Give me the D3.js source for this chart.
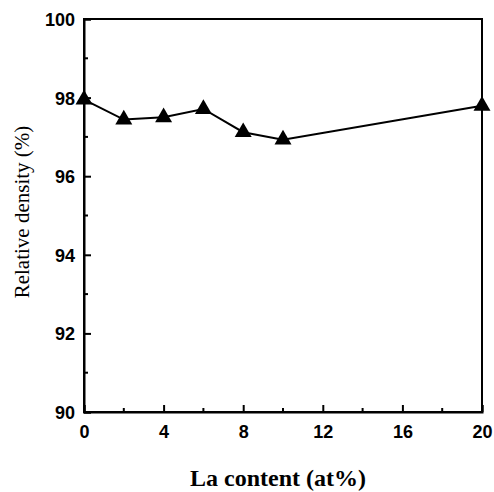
<!DOCTYPE html>
<html><head><meta charset="utf-8">
<script src="https://cdn.jsdelivr.net/npm/d3@7"></script>
<style>body{margin:0;background:#fff}svg{display:block}</style>
</head><body>
<svg id="c" width="494" height="492"></svg>
<script>
const laContent = [0, 2, 4, 6, 8, 10, 20];
const relDensity = [97.95, 97.44, 97.5, 97.71, 97.12, 96.93, 97.79];
const xTicks = [0, 4, 8, 12, 16, 20];
const xMinorTicks = [2, 6, 10, 14, 18];
const yTicks = [90, 92, 94, 96, 98, 100];
const yMinorTicks = [91, 93, 95, 97, 99];

const svg = d3.select("#c");
const m = {l: 84, r: 482, t: 19, b: 412};
const x = d3.scaleLinear().domain([0, 20]).range([m.l, m.r]);
const y = d3.scaleLinear().domain([90, 100]).range([m.b, m.t]);

// frame
svg.append("rect").attr("x", m.l).attr("y", m.t).attr("width", m.r - m.l).attr("height", m.b - m.t)
  .attr("fill", "none").attr("stroke", "#000").attr("stroke-width", 2);

const tickFont = "'Liberation Sans', Arial, sans-serif";
// x axis
const gx = svg.append("g").attr("transform", `translate(0,${m.b})`)
  .call(d3.axisBottom(x).tickValues(xTicks).tickSize(-7).tickFormat(d3.format("d")));
gx.append("g").selectAll("line").data(xMinorTicks).join("line")
  .attr("x1", d => x(d)).attr("x2", d => x(d)).attr("y1", 0).attr("y2", -4)
  .attr("stroke", "#000").attr("stroke-width", 2);
// y axis
const gy = svg.append("g").attr("transform", `translate(${m.l},0)`)
  .call(d3.axisLeft(y).tickValues(yTicks).tickSize(-7).tickPadding(9).tickFormat(d3.format("d")));
gy.append("g").selectAll("line").data(yMinorTicks).join("line")
  .attr("y1", d => y(d)).attr("y2", d => y(d)).attr("x1", 0).attr("x2", 4)
  .attr("stroke", "#000").attr("stroke-width", 2);

[gx, gy].forEach(g => {
  g.select(".domain").attr("stroke", "#000").attr("stroke-width", 2);
  g.selectAll(".tick line").attr("stroke", "#000").attr("stroke-width", 2);
  g.selectAll(".tick text").attr("font-family", tickFont).attr("font-weight", "bold")
    .attr("font-size", 18).attr("fill", "#000");
});
gx.selectAll(".tick text").attr("dy", null).attr("y", 26);
gy.selectAll(".tick text").attr("dy", "0.36em");

// line
const pts = laContent.map((d, i) => [d, relDensity[i]]);
svg.append("path").datum(pts)
  .attr("d", d3.line().x(d => x(d[0])).y(d => y(d[1])))
  .attr("fill", "none").attr("stroke", "#000").attr("stroke-width", 2);

svg.append("g").selectAll("path").data(pts).join("path")
  .attr("transform", d => `translate(${x(d[0])},${y(d[1])})`)
  .attr("d", d3.symbol().type(d3.symbolTriangle).size(125))
  .attr("fill", "#000");

// titles
svg.append("text").attr("x", 278).attr("y", 486).attr("text-anchor", "middle")
  .attr("font-family", "'Liberation Serif', 'Times New Roman', serif").attr("font-weight", "bold")
  .attr("font-size", 24).text("La content (at%)");
svg.append("text").attr("transform", "translate(29,212) rotate(-90)").attr("text-anchor", "middle")
  .attr("font-family", "'Liberation Serif', 'Times New Roman', serif")
  .attr("font-size", 21).text("Relative density (%)");
</script>
</body></html>
